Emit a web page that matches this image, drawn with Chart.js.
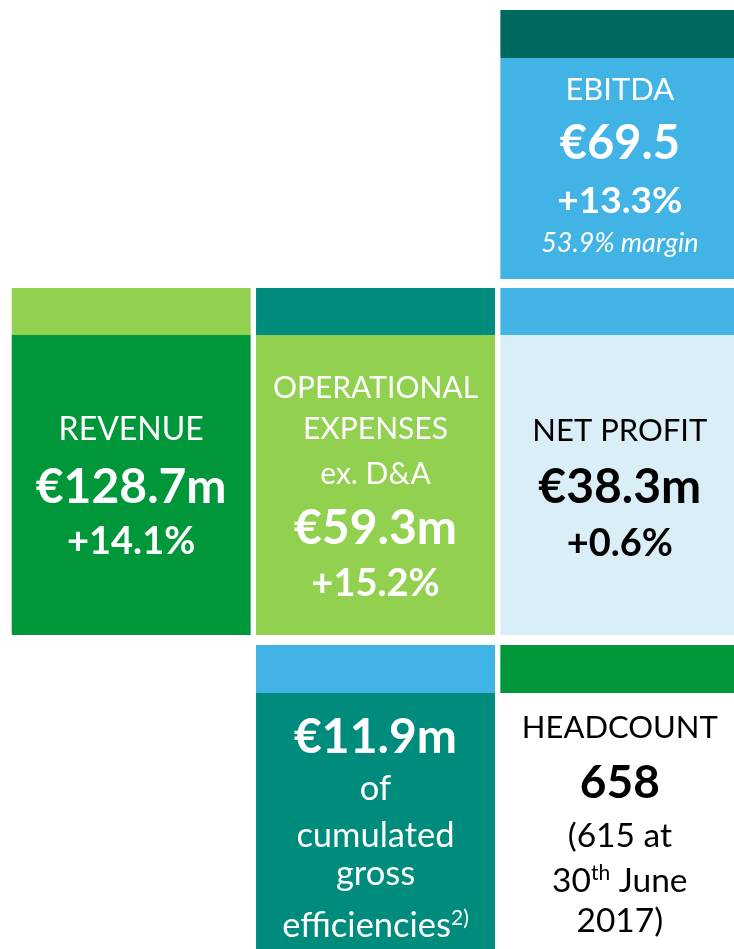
<!DOCTYPE html>
<html lang="en">
<head>
    <meta charset="UTF-8">
    <title>Key figures</title>
    <script src="https://cdn.jsdelivr.net/npm/chart.js"></script>
    <style>
        html, body {
            margin: 0;
            padding: 0;
            background: #fff;
            overflow: hidden;
        }

        .tiles {
            position: relative;
            width: 745px;
            height: 949px;
        }
    </style>
</head>
<body>
    <div class="tiles">
        <canvas id="kpiChart"></canvas>
    </div>

    <script>
        // KPI figures
        const kpiTitles = [['EBITDA'], ['REVENUE'], ['OPERATIONAL', 'EXPENSES', 'ex. D&A'], ['NET PROFIT'], [], ['HEADCOUNT']];
        const kpiValues = ['€69.5', '€128.7m', '€59.3m', '€38.3m', '€11.9m', '658'];
        const kpiChanges = ['+13.3%', '+14.1%', '+15.2%', '+0.6%', '', ''];
        const kpiNotes = [['53.9% margin'], [], [], [], ['of', 'cumulated', 'gross', 'efficiencies^2)'], ['(615 at', '30^th June', '2017)']];

        // grid columns
        const columns = ['left', 'middle', 'right'];

        // layout: which column/row each tile sits in, and the row bands (top, header end, body end)
        const tileCell = [[2, 0], [0, 1], [1, 1], [2, 1], [1, 2], [2, 2]];
        const rowBands = [[10, 58, 279], [288, 335, 635], [645, 693, 949]];

        const headerColors = ['#00695F', '#92D050', '#008C7D', '#41B4E5', '#41B4E5', '#00963A'];
        const bodyColors = ['#41B4E5', '#00963A', '#92D050', '#DAEEF8', '#008C7D', '#ffffff'];

        // text style per tile: fonts and baseline offsets from the body centre
        const tileText = [
            { color: '#fff', title: '31px', value: 'bold 47px', change: 'bold 37px', note: 'italic 27px', dy: [-68.5, -9.5, 44.5, 83.5] },
            { color: '#fff', title: '32px', value: 'bold 48px', change: 'bold 38px', dy: [-45.5, 17.5, 68.5] },
            { color: '#fff', title: '30px', value: 'bold 48px', change: 'bold 38px', dy: [-87.5, -46.5, -1.5, 58.5, 110.5] },
            { color: '#000', title: '31px', value: 'bold 48px', change: 'bold 38px', dy: [-44.5, 17.5, 70.5] },
            { color: '#fff', value: 'bold 48px', note: '34.5px', dy: [-68, -21, 26, 64, 116] },
            { color: '#000', title: '31px', value: 'bold 46px', note: '33.5px', dy: [-83, -23, 26, 71, 111] }
        ];

        const FAMILY = 'Lato, "Open Sans", sans-serif';

        // one header dataset and one body dataset per row, floating bars
        const datasets = [];
        rowBands.forEach(function (band, r) {
            const head = [null, null, null];
            const body = [null, null, null];
            const headCol = ['#fff', '#fff', '#fff'];
            const bodyCol = ['#fff', '#fff', '#fff'];
            tileCell.forEach(function (cell, i) {
                if (cell[1] !== r) return;
                head[cell[0]] = [band[0], band[1]];
                body[cell[0]] = [band[1], band[2]];
                headCol[cell[0]] = headerColors[i];
                bodyCol[cell[0]] = bodyColors[i];
            });
            datasets.push({ label: 'header ' + r, data: head, backgroundColor: headCol });
            datasets.push({ label: 'body ' + r, data: body, backgroundColor: bodyCol });
        });

        function drawLine(ctx, text, font, x, y) {
            // "word^sup" -> superscript part after ^
            const parts = text.split('^');
            const size = parseFloat(font.match(/(\d+(\.\d+)?)px/)[1]);
            const supFont = font.replace(/\d+(\.\d+)?px/, Math.round(size * 0.62) + 'px');
            let main = parts[0], sup = '', rest = '';
            if (parts.length > 1) {
                const sp = parts[1].indexOf(' ');
                sup = sp < 0 ? parts[1] : parts[1].slice(0, sp);
                rest = sp < 0 ? '' : parts[1].slice(sp);
            }
            ctx.font = font + ' ' + FAMILY;
            const w1 = ctx.measureText(main).width;
            const w3 = ctx.measureText(rest).width;
            ctx.font = supFont + ' ' + FAMILY;
            const w2 = ctx.measureText(sup).width;
            let cx = x - (w1 + w2 + w3) / 2;
            ctx.textAlign = 'left';
            ctx.textBaseline = 'alphabetic';
            ctx.font = font + ' ' + FAMILY;
            ctx.fillText(main, cx, y);
            cx += w1;
            if (sup) {
                ctx.font = supFont + ' ' + FAMILY;
                ctx.fillText(sup, cx, y - size * 0.36);
                cx += w2;
                ctx.font = font + ' ' + FAMILY;
                ctx.fillText(rest, cx, y);
            }
        }

        const tileLabels = {
            id: 'tileLabels',
            afterDatasetsDraw(chart) {
                const ctx = chart.ctx;
                ctx.save();
                tileCell.forEach(function (cell, i) {
                    const bar = chart.getDatasetMeta(cell[1] * 2 + 1).data[cell[0]];
                    const cx = bar.x;
                    const cy = (bar.y + bar.base) / 2;
                    const st = tileText[i];
                    const lines = [];
                    kpiTitles[i].forEach(function (t) { lines.push([t, st.title]); });
                    lines.push([kpiValues[i], st.value]);
                    if (kpiChanges[i]) lines.push([kpiChanges[i], st.change]);
                    kpiNotes[i].forEach(function (t) { lines.push([t, st.note]); });
                    ctx.fillStyle = st.color;
                    lines.forEach(function (ln, k) {
                        drawLine(ctx, ln[0], ln[1], cx, cy + st.dy[k]);
                    });
                });
                ctx.restore();
            }
        };

        new Chart(document.getElementById('kpiChart'), {
            type: 'bar',
            data: { labels: columns, datasets: datasets },
            options: {
                responsive: true,
                maintainAspectRatio: false,
                animation: false,
                events: [],
                layout: { padding: { left: 9, right: 3, top: 0, bottom: 0 } },
                datasets: {
                    bar: {
                        grouped: false,
                        categoryPercentage: 1,
                        barPercentage: 0.978,
                        borderWidth: 0,
                        inflateAmount: 0
                    }
                },
                scales: {
                    x: { display: false },
                    y: { display: false, min: 0, max: 949, reverse: true }
                },
                plugins: {
                    legend: { display: false },
                    tooltip: { enabled: false }
                }
            },
            plugins: [tileLabels]
        });
    </script>
</body>
</html>
